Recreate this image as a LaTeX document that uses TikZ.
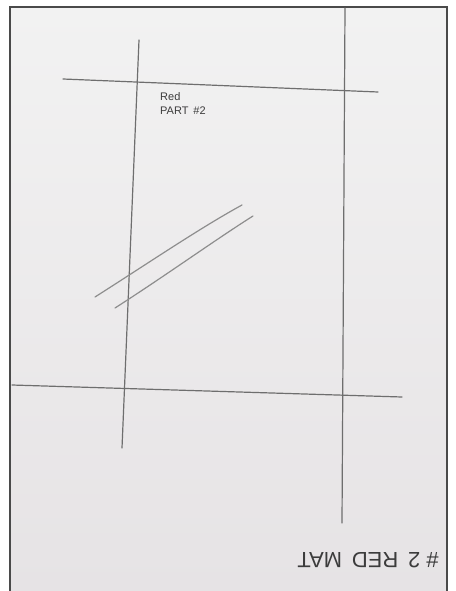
\documentclass[tikz,border=0pt]{standalone}
\usepackage{fontspec}
\setmainfont{Liberation Sans}
\definecolor{paper}{HTML}{E6E3E5}
\definecolor{paperlight}{HTML}{F2F2F2}
\definecolor{frameline}{HTML}{4A4A4A}
\definecolor{pencil}{HTML}{6E6E6E}
\definecolor{pencillight}{HTML}{8E8E8E}
\definecolor{ink}{HTML}{3C3C3C}
\tikzset{
  sketch/.style={draw=pencil, line width=1.2pt, line cap=round},
  sketchlight/.style={draw=pencillight, line width=1.2pt, line cap=round},
  note/.style={text=ink, font=\fontsize{11}{14}\selectfont, align=left, inner sep=0pt},
  bignote/.style={text=ink, font=\fontsize{22}{22}\selectfont, inner sep=0pt}
}
\begin{document}
\begin{tikzpicture}[x=1pt,y=-1pt]
\useasboundingbox (0,0) rectangle (455,591);
\fill[white] (0,0) rectangle (455,591);
\begin{scope}
\clip (10,7) rectangle (447,591);
\shade[top color=paperlight, bottom color=paper] (10,7) rectangle (447,591);
\node[bignote, rotate=180] (matlabel) at (368,560) {\# 2 \,RED \,MAT};
\end{scope}
\draw[frameline, line width=1.6pt] (10,591) -- (10,7) -- (447,7) -- (447,591);
% grid lines
\draw[sketch] (139,40) -- (122,448);
\draw[sketch] (345,8) -- (342,523);
\draw[sketch] (63,79) -- (378,92);
\draw[sketch] (12,385) -- (402,397);
% double diagonal
\draw[sketchlight] (95,297) .. controls (150,262) and (200,228) .. (242,205);
\draw[sketchlight] (115,308) .. controls (165,276) and (215,240) .. (253,216);
% labels
\node[note, anchor=north west] (partlabel) at (160,92) {Red\\PART \,\#2};
\end{tikzpicture}
\end{document}
